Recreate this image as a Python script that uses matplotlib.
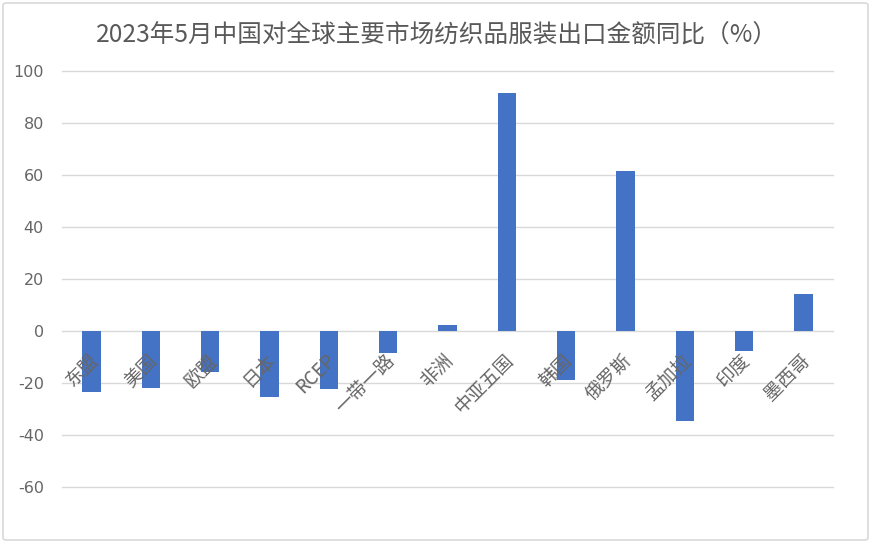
import matplotlib
matplotlib.use("Agg")
import matplotlib.pyplot as plt
import matplotlib.transforms as mtransforms
from matplotlib.patches import FancyBboxPatch

plt.rcParams['font.family'] = ['Noto Sans CJK SC', 'DejaVu Sans']

categories = ["东盟", "美国", "欧盟", "日本", "RCEP", "一带一路", "非洲",
              "中亚五国", "韩国", "俄罗斯", "孟加拉", "印度", "墨西哥"]
values = [-23.5, -22.1, -15.8, -25.4, -22.5, -8.5, 2.3,
          91.6, -18.9, 61.5, -34.7, -7.9, 14.1]
yticks = [100, 80, 60, 40, 20, 0, -20, -40, -60]
title = "2023年5月中国对全球主要市场纺织品服装出口金额同比（%）"

W, H = 871, 543
fig = plt.figure(figsize=(W / 100, H / 100), dpi=100)

# outer frame
frame = FancyBboxPatch((3 / W, 3 / H), 1 - 6 / W, 1 - 6 / H,
                       boxstyle="round,pad=0,rounding_size=0.004",
                       transform=fig.transFigure, fill=False,
                       edgecolor="#d9d9d9", linewidth=1.2)
fig.patches.append(frame)

left, right = 62 / W, 833 / W
top, bottom = 1 - 71.3 / H, 1 - 486.7 / H
ax = fig.add_axes([left, bottom, right - left, top - bottom])

x = list(range(len(categories)))
ax.bar(x, values, width=0.31, color="#4472C4", zorder=3)

ax.set_xlim(-0.5, len(categories) - 0.5)
ax.set_ylim(-60, 100)
ax.set_yticks(yticks)
ax.set_yticklabels([str(v) for v in yticks], fontsize=11.5, color="#666666",
                   family=['DejaVu Sans'])
ax.tick_params(axis='y', length=0, pad=13)
ax.set_xticks([])
ax.grid(axis='y', color="#d9d9d9", linewidth=1, zorder=0)
for gl in ax.get_ygridlines():
    gl.set_clip_on(False)
for s in ax.spines.values():
    s.set_visible(False)

offset = mtransforms.ScaledTranslation(-4 / 100, -19 / 100, fig.dpi_scale_trans)
for xi, lab in zip(x, categories):
    ax.text(xi, 0, lab, rotation=45, rotation_mode='anchor', ha='right', va='top',
            fontsize=13.5, color="#666666", fontweight='light',
            transform=ax.transData + offset, zorder=4)

fig.text(437 / W, 1 - 35 / H, title, ha='center', va='center', fontsize=17.7,
         color="#595959", fontweight='light')

fig.savefig("out.png", dpi=100)
